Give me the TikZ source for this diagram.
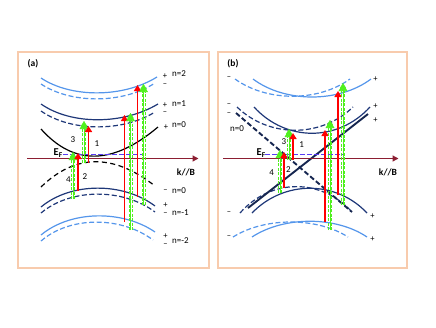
\documentclass[tikz,border=0pt]{standalone}
\usepackage{fontspec}
\setmainfont{Carlito}
\usetikzlibrary{arrows.meta}
\definecolor{framec}{RGB}{248,203,173}
\definecolor{lblue}{RGB}{85,150,235}
\definecolor{navy}{RGB}{30,55,120}
\definecolor{dnavy}{RGB}{22,38,80}
\definecolor{axisc}{RGB}{140,30,50}
\definecolor{efc}{RGB}{90,60,245}
\definecolor{grn}{RGB}{80,240,30}
\definecolor{redc}{RGB}{255,0,0}
\begin{document}
\begin{tikzpicture}[x=1pt,y=-1pt,
  framebox/.style={draw=framec,line width=1.5pt},
  bandline/.style={line width=1.2pt},
  dsh/.style={dash pattern=on 5pt off 2.5pt},
  chiral/.style={draw=dnavy,line width=1.9pt},
  axisline/.style={draw=axisc,line width=1.3pt,-{Triangle[length=6pt,width=6pt]}},
  efline/.style={draw=efc,line width=1.6pt,dash pattern=on 5pt off 2pt},
  rarrow/.style={draw=redc,line width=1.6pt,-{Triangle[length=6pt,width=7pt]}},
  garrow/.style={draw=grn,line width=0.2pt,-{Triangle[length=5pt,width=6pt]},
    preaction={draw=grn,line width=0.75pt,dash pattern=on 3pt off 1.5pt,shorten >=3pt,transform canvas={xshift=-1.4pt}},
    preaction={draw=grn,line width=0.75pt,dash pattern=on 3pt off 1.5pt,shorten >=3pt,transform canvas={xshift=1.4pt}}},
  lbl/.style={font=\fontsize{9}{9}\selectfont,inner sep=0pt},
  pmlbl/.style={font=\fontsize{8.5}{8.5}\selectfont,inner sep=0pt},
  ttl/.style={font=\bfseries\fontsize{9.5}{9.5}\selectfont,inner sep=0pt}
]
\useasboundingbox (0,0) rectangle (436,327);
% frames
\draw[framebox] (18,52) rectangle (209,268);
\draw[framebox] (218,52) rectangle (407,268);

% ---------- panel (a) bands ----------
\draw[bandline,lblue] (41,78) .. controls (71,98) and (123,98) .. (157,77);
\draw[bandline,lblue,dsh] (41,84) .. controls (71,104) and (123,104) .. (155,83);
\draw[bandline,navy] (41,104) .. controls (71,125) and (123,125) .. (158,104);
\draw[bandline,navy,dsh] (41,111) .. controls (71,132) and (123,132) .. (155,112);
\draw[bandline,black] (41,129) .. controls (74,166) and (113,165) .. (158,127);
\draw[bandline,black,dash pattern=on 5pt off 3.5pt] (41,187) .. controls (75,154) and (113,153) .. (155,186);
\draw[bandline,navy] (41,207) .. controls (71,182) and (123,182) .. (155,206);
\draw[bandline,navy,dsh] (41,213) .. controls (71,188) and (123,188) .. (155,212);
\draw[bandline,lblue] (41,235) .. controls (71,210) and (123,210) .. (155,232);
\draw[bandline,lblue,dsh] (41,241) .. controls (70,216) and (121,216) .. (153,240);

% ---------- panel (b) bands ----------
\draw[bandline,lblue,dsh] (235,79) .. controls (267,102) and (318,102) .. (350,79);
\draw[bandline,lblue] (253,79) .. controls (285,103) and (339,103) .. (371,79);
\draw[bandline,navy,dsh] (237,107) .. controls (269,138) and (321,138) .. (353,107);
\draw[bandline,navy] (254,107) .. controls (286,142) and (338,142) .. (370,107);
\draw[bandline,navy,dsh] (240,213) .. controls (271,178) and (321,178) .. (352,212);
\draw[bandline,navy] (252,213) .. controls (284,180) and (336,180) .. (367,213);
\draw[bandline,lblue,dsh] (233,237) .. controls (265,217) and (317,217) .. (348,237);
\draw[bandline,lblue] (252,237) .. controls (284,216) and (336,216) .. (367,237);
\coordinate (cs0) at (248,208); \coordinate (cs1) at (368,114);
\coordinate (cd0) at (236,113); \coordinate (cd1) at (352,212);
\draw[chiral] (cs0) -- (cs1);
\draw[chiral,dsh] (cd0) -- (cd1);

% ---------- axes ----------
\coordinate (axa0) at (27,158.5); \coordinate (axa1) at (198.5,158.5);
\coordinate (axb0) at (223,158.5); \coordinate (axb1) at (398.5,158.5);
\draw[axisline] (axa0) -- (axa1);
\draw[axisline] (axb0) -- (axb1);

% ---------- Fermi levels ----------
\coordinate (efa0) at (63,154.5); \coordinate (efa1) at (143,154.5);
\coordinate (efb0) at (265,154.5); \coordinate (efb1) at (345,154.5);
\draw[efline] (efa0) -- (efa1);
\draw[efline] (efb0) -- (efb1);

% ---------- arrows panel (a) ----------
\coordinate (ag4s) at (73,199);   \coordinate (ag4e) at (73,152);
\coordinate (ar2s) at (78,191);   \coordinate (ar2e) at (78,153);
\coordinate (ag3s) at (84,163);   \coordinate (ag3e) at (84,121);
\coordinate (ar1s) at (88.5,163); \coordinate (ar1e) at (88.5,126);
\coordinate (arAs) at (124.5,222); \coordinate (arAe) at (124.5,115);
\coordinate (agAs) at (130.5,230); \coordinate (agAe) at (130.5,113);
\coordinate (arBs) at (137.5,197); \coordinate (arBe) at (137.5,85);
\coordinate (agBs) at (143.5,205); \coordinate (agBe) at (143.5,84);
\draw[garrow] (ag4s) -- (ag4e);
\draw[rarrow] (ar2s) -- (ar2e);
\draw[garrow] (ag3s) -- (ag3e);
\draw[rarrow] (ar1s) -- (ar1e);
\draw[rarrow] (arAs) -- (arAe);
\draw[garrow] (agAs) -- (agAe);
\draw[rarrow] (arBs) -- (arBe);
\draw[garrow] (agBs) -- (agBe);

% ---------- arrows panel (b) ----------
\coordinate (bg4s) at (280,193); \coordinate (bg4e) at (280,150);
\coordinate (br2s) at (284,188); \coordinate (br2e) at (284,152);
\coordinate (bg3s) at (289,160); \coordinate (bg3e) at (289,129);
\coordinate (br1s) at (293,160); \coordinate (br1e) at (293,133);
\coordinate (brAs) at (325,222); \coordinate (brAe) at (325,130);
\coordinate (bgAs) at (330,230); \coordinate (bgAe) at (330,120);
\coordinate (brBs) at (338,195); \coordinate (brBe) at (338,91);
\coordinate (bgBs) at (343,205); \coordinate (bgBe) at (343,83);
\draw[garrow] (bg4s) -- (bg4e);
\draw[rarrow] (br2s) -- (br2e);
\draw[garrow] (bg3s) -- (bg3e);
\draw[rarrow] (br1s) -- (br1e);
\draw[rarrow] (brAs) -- (brAe);
\draw[garrow] (bgAs) -- (bgAe);
\draw[rarrow] (brBs) -- (brBe);
\draw[garrow] (bgBs) -- (bgBe);

% ---------- labels panel (a) ----------
\node[ttl] (ta) at (33,64) {(a)};
\node[ttl] (ka) at (186,172) {k//B};
\node[font=\bfseries\fontsize{10.5}{10.5}\selectfont,inner sep=0pt,anchor=base west] (Efa) at (53.5,155.5) {E\textsubscript{F}};
\node[lbl] (a3) at (73,139.5) {3};
\node[lbl] (a1) at (97,143.5) {1};
\node[lbl] (a2) at (85,177) {2};
\node[lbl] (a4) at (68.5,180) {4};
\node[pmlbl] (ap2) at (165,76) {+};
\node[pmlbl] (am2) at (165,85) {–};
\node[lbl,anchor=west] (an2) at (172,73.3) {n=2};
\node[pmlbl] (ap1) at (165,105) {+};
\node[pmlbl] (am1) at (165,113.5) {–};
\node[lbl,anchor=west] (an1) at (172,103.3) {n=1};
\node[pmlbl] (ap0) at (166,127.5) {+};
\node[lbl,anchor=west] (an0) at (172,125) {n=0};
\node[pmlbl] (am0) at (165.5,191.5) {–};
\node[lbl,anchor=west] (an0b) at (172,191) {n=0};
\node[pmlbl] (apm1) at (165.5,205.5) {+};
\node[pmlbl] (amm1) at (165.5,214) {–};
\node[lbl,anchor=west] (anm1) at (172,212.3) {n=-1};
\node[pmlbl] (apm2) at (165.5,236.5) {+};
\node[pmlbl] (amm2) at (165.5,245.5) {–};
\node[lbl,anchor=west] (anm2) at (172,240.7) {n=-2};

% ---------- labels panel (b) ----------
\node[ttl] (tb) at (233,64) {(b)};
\node[ttl] (kb) at (388,172) {k//B};
\node[font=\bfseries\fontsize{10.5}{10.5}\selectfont,inner sep=0pt,anchor=base west] (Efb) at (256.5,155.5) {E\textsubscript{F}};
\node[lbl] (b3) at (284,141.7) {3};
\node[lbl] (b1) at (301.7,144.3) {1};
\node[lbl] (b2) at (288.3,169.3) {2};
\node[lbl] (b4) at (271.7,172.7) {4};
\node[lbl,anchor=west] (bn0) at (230,128.5) {n=0};
\node[pmlbl] (bm1) at (229,78) {–};
\node[pmlbl] (bm2) at (229,105) {–};
\node[pmlbl] (bm3) at (229,114) {–};
\node[pmlbl] (bm4) at (229,213) {–};
\node[pmlbl] (bm5) at (229,237) {–};
\node[pmlbl] (bp1) at (375.5,79) {+};
\node[pmlbl] (bp2) at (375.5,106) {+};
\node[pmlbl] (bp3) at (375.5,120) {+};
\node[pmlbl] (bp4) at (372.5,216) {+};
\node[pmlbl] (bp5) at (372.5,239) {+};
\end{tikzpicture}
\end{document}
